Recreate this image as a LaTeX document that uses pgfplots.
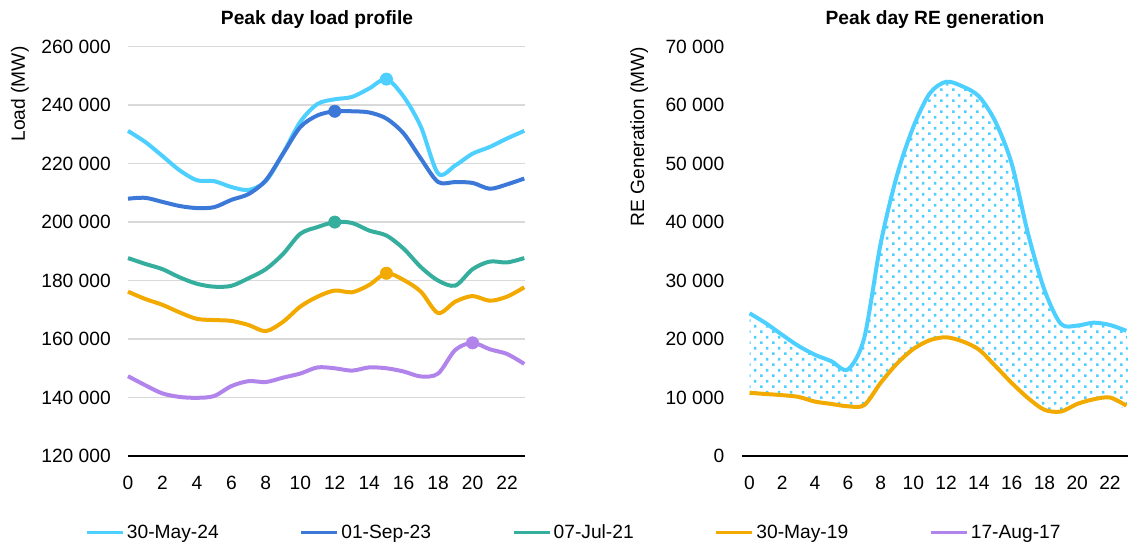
\documentclass[border=0pt]{standalone}
\usepackage{fontspec}
\setmainfont{Liberation Sans}
\usepackage{pgfplots}
\usepackage{pgfplotstable}
\pgfplotsset{compat=1.18}
\usetikzlibrary{patterns}

\definecolor{cLB}{HTML}{4DD0FF}
\definecolor{cDB}{HTML}{3B78D8}
\definecolor{cTE}{HTML}{36AE9E}
\definecolor{cOR}{HTML}{F2A900}
\definecolor{cPU}{HTML}{B184EC}
\definecolor{cGR}{HTML}{D9D9D9}

\pgfdeclarepatternformonly{redots}{\pgfpointorigin}{\pgfpoint{9.2pt}{8.5pt}}{\pgfpoint{9.2pt}{8.5pt}}{%
  \pgfpathrectangle{\pgfpointorigin}{\pgfpoint{2.1pt}{2.1pt}}%
  \pgfpathrectangle{\pgfpoint{4.6pt}{4.25pt}}{\pgfpoint{2.1pt}{2.1pt}}%
  \pgfusepath{fill}%
}

\pgfplotstableread{
h a b c d e
0 231200 208000 187700 176200 147300
1 227400 208300 185700 173700 144200
2 222600 206900 183900 171700 141400
3 217700 205500 181100 169100 140200
4 214300 204800 178900 166900 139900
5 214000 205100 177900 166500 140500
6 212000 207600 178200 166200 143900
7 211000 209600 180800 164800 145600
8 214000 214300 183900 162700 145300
9 223500 223400 189100 165900 146800
10 234300 232500 196000 171100 148200
11 240400 236500 198300 174500 150300
12 242000 237900 200000 176600 150000
13 242800 237900 199700 176000 149200
14 245700 237500 197100 178500 150300
15 248900 235400 195400 182500 150000
16 242900 230300 190900 180200 148900
17 232600 221700 184600 176200 147200
18 216600 213700 180000 168900 148200
19 219400 213700 178300 172800 156300
20 223400 213400 183900 174700 158700
21 225700 211400 186500 173100 156500
22 228600 212900 186200 174500 154900
23 231200 214900 187700 177700 151500
}\loadtab

\pgfplotstableread{
h b o
0 24400 10800
1 22700 10600
2 20700 10400
3 18800 10100
4 17300 9300
5 16200 8900
6 14800 8500
7 20200 8700
8 36300 12500
9 48000 15800
10 56300 18300
11 62000 19800
12 64000 20300
13 63200 19600
14 61500 18200
15 57200 15400
16 50000 12500
17 38000 9900
18 28400 7900
19 22600 7600
20 22300 8900
21 22800 9700
22 22400 10000
23 21400 8600
}\retab

% band between the two RE curves: upper curve forward, lower curve backward
\pgfplotstableread{
x y
0 24400
1 22700
2 20700
3 18800
4 17300
5 16200
6 14800
7 20200
8 36300
9 48000
10 56300
11 62000
12 64000
13 63200
14 61500
15 57200
16 50000
17 38000
18 28400
19 22600
20 22300
21 22800
22 22400
23 21400
23 8600
22 10000
21 9700
20 8900
19 7600
18 7900
17 9900
16 12500
15 15400
14 18200
13 19600
12 20300
11 19800
10 18300
9 15800
8 12500
7 8700
6 8500
5 8900
4 9300
3 10100
2 10400
1 10600
0 10800
}\bandtab

\pgfplotsset{
  common/.style={
    scale only axis,
    height=307pt,
    scaled y ticks=false,
    font=\fontsize{14.4}{17}\selectfont,
    tick label style={font=\fontsize{14.4}{17}\selectfont},
    label style={font=\fontsize{14.4}{17}\selectfont, inner sep=0pt},
    title style={font=\fontsize{14.4}{17}\selectfont\bfseries, anchor=base, yshift=10.25pt, inner sep=0pt},
    major tick length=0pt,
    axis x line*=bottom, axis y line*=left,
    y axis line style={draw=none},
    x axis line style={black, line width=1pt, -},
    xtick={0,2,...,22},
    /pgf/number format/assume math mode=true,
    xticklabel style={anchor=base, yshift=-25pt, inner sep=0pt},
    clip=false,
  },
  ln/.style={line width=3pt, smooth},
  pk/.style={forget plot, only marks, color=#1, mark=*, mark size=4.6pt, mark options={solid, fill=#1, draw=#1, line width=0.5pt}},
}

\begin{document}
\begin{tikzpicture}
\path[use as bounding box] (0pt,0pt) rectangle (848.25pt,408.75pt);

\begin{axis}[common,
  at={(96pt,66.75pt)}, anchor=south west,
  width=298.1pt,
  xmin=0, xmax=23.07, ymin=120000, ymax=260000,
  ytick={120000,140000,160000,180000,200000,220000,240000,260000},
  yticklabels={120 000,140 000,160 000,180 000,200 000,220 000,240 000,260 000},
  yticklabel style={anchor=east, inner sep=0pt, xshift=-12.75pt},
  ymajorgrids, grid style={cGR, line width=1pt},
  title={Peak day load profile},
  title style={at={(axis description cs:0.4755,1)}},
  ylabel={Load (MW)},
  ylabel style={at={(axis description cs:-0.2717,0.8844)}, anchor=center},
  legend columns=5,
  legend cell align=left,
  legend image code/.code={\draw[#1, line width=2.2pt] (0pt,0pt) -- (27pt,0pt);},
  legend style={at={(axis description cs:-0.108,-0.188)}, anchor=west,
    draw=none, fill=none, inner sep=0pt,
    font=\fontsize{14.4}{17}\selectfont,
    nodes={inner sep=0pt},
    /tikz/every odd column/.append style={column sep=2pt},
    /tikz/every even column/.append style={column sep=60.8pt}},
]
\addplot[ln, cLB] table[x=h,y=a]{\loadtab};
\addlegendentry{30-May-24}
\addplot[ln, cDB] table[x=h,y=b]{\loadtab};
\addlegendentry{01-Sep-23}
\addplot[ln, cTE] table[x=h,y=c]{\loadtab};
\addlegendentry{07-Jul-21}
\addplot[ln, cOR] table[x=h,y=d]{\loadtab};
\addlegendentry{30-May-19}
\addplot[ln, cPU] table[x=h,y=e]{\loadtab};
\addlegendentry{17-Aug-17}
\addplot[pk=cLB] coordinates {(15,248900)};
\addplot[pk=cDB] coordinates {(12,237900)};
\addplot[pk=cTE] coordinates {(12,200000)};
\addplot[pk=cOR] coordinates {(15,182500)};
\addplot[pk=cPU] coordinates {(20,158700)};
\end{axis}

\begin{axis}[common,
  at={(556.5pt,66.75pt)}, anchor=south west,
  width=289.5pt,
  xmin=-0.46, xmax=23.1, ymin=0, ymax=70000,
  ytick={0,10000,20000,30000,40000,50000,60000,70000},
  yticklabels={0,10 000,20 000,30 000,40 000,50 000,60 000,70 000},
  yticklabel style={anchor=east, inner sep=0pt, xshift=-13.1pt},
  title={Peak day RE generation},
  title style={at={(axis description cs:0.5,1)}},
  ylabel={RE Generation (MW)},
  ylabel style={at={(axis description cs:-0.2664,0.7806)}, anchor=center},
]
\addplot[smooth, draw=none, pattern=redots, pattern color=cLB, forget plot] table[x=x,y=y]{\bandtab};
\addplot[ln, cLB] table[x=h,y=b]{\retab};
\addplot[ln, cOR] table[x=h,y=o]{\retab};
\end{axis}
\end{tikzpicture}
\end{document}
